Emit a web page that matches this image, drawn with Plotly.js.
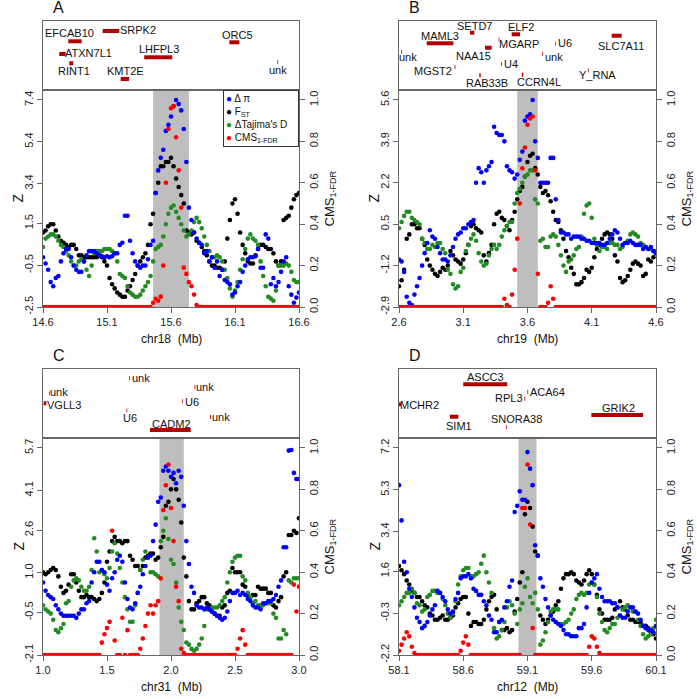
<!DOCTYPE html>
<html><head><meta charset="utf-8">
<script src="https://cdn.plot.ly/plotly-3.0.1.min.js"></script>
<style>html,body{margin:0;padding:0;background:#fff}#chart{width:697px;height:699px}</style>
</head><body><div id="chart"></div>
<script>
// ================= DATA =================
const panelLetters = ["A","B","C","D"];
const chromNames = ["chr18","chr19","chr31","chr12"];

// x ticks (Mb)
const xTicksA = [14.6,15.1,15.6,16.1,16.6];
const xTicksB = [2.6,3.1,3.6,4.1,4.6];
const xTicksC = [1.0,1.5,2.0,2.5,3.0];
const xTicksD = [58.1,58.6,59.1,59.6,60.1];
// Z ticks
const zTicksA = [-2.5,-0.5,1.5,3.4,5.4,7.4];
const zTicksB = [-2.9,-1.2,0.5,2.2,3.9,5.6];
const zTicksC = [-2.1,-0.5,1.0,2.6,4.1,5.7];
const zTicksD = [-2.2,-0.3,1.6,3.4,5.3,7.2];
const cmsTicks = [0,0.2,0.4,0.6,0.8,1.0];
const cmsTickLabels = ["0.0","0.2","0.4","0.6","0.8","1.0"];

// sampling of windows (Mb): "w" windows start at the left edge, "m" windows are offset by half a step
const zWindowStep = 0.04;
const cmsWindowStep = 0.02;

// candidate regions (shaded)
const regionA = [15.46, 15.74];
const regionB = [3.52, 3.68];
const regionC = [1.91, 2.10];
const regionD = [59.03, 59.17];

// ---------- Panel A ----------
const dPiA = [-0.12,-0.72,-1.51,-1.02,0.07,0.27,-0.52,-0.82,-0.32,0.17, 0.17,-0.03,-0.12,-0.12,0.07,0.47,1.86,0.67,-0.32,-0.62, -0.52,0.47,2.95,4.63,5.92,6.61,7.4,6.9,4.43,1.66, 0.77,0.47,0.17,-0.12,-0.32,-0.72,-1.31,-1.91,-1.51,-0.82, -0.22,-0.12,0.27,-0.62,0.77,-1.11,-1.31,-0.32,-1.51,-2.3,-1.81];
const dPiAm = [-0.42,-1.31,-1.11,-0.32,0.27,-0.12,-0.72,-0.82,-0.03,0.17, 0.07,-0.07,-0.07,-0.07,0.07,0.57,1.86,0.07,-0.52,-0.52, -0.22,0.67,4.03,5.02,6.21,7.1,7.2,6.01,2.25,1.06, 0.57,0.07,-0.32,-0.62,-1.02,-1.21,-1.41,-1.81,-1.31,-0.52, -0.12,-0.07,-0.62,0.97,-1.41,-1.51,-0.82,-0.12,-1.91,-2.05];
const fstA = [1.06,1.36,1.46,0.87,0.57,0.37,0.47,-0.03,-0.12,-0.12, -0.12,-0.03,-0.32,-1.11,-1.61,-1.91,-2.01,-1.51,-0.92,-0.32, 0.07,1.46,2.95,4.23,4.43,4.63,3.64,2.85,1.16,0.97, 0.67,0.37,-0.03,-0.52,-0.62,-0.72,0.77,2.45,1.96,0.47, -0.32,-0.42,0.27,0.47,0.27,0.07,-0.52,1.66,1.86,2.65,2.95];
const fstAm = [1.16,1.46,1.16,0.67,0.47,0.47,0.27,-0.03,-0.12,-0.12, -0.12,-0.12,-0.52,-1.41,-1.81,-2.01,-1.71,-1.21,-0.52,-0.12, 0.47,1.96,3.44,4.23,4.43,4.23,3.24,2.45,1.06,1.06, 0.57,0.17,-0.32,-0.52,-0.62,-0.32,1.66,2.65,1.06,0.07, -0.42,-0.03,0.47,0.37,0.27,-0.32,-0.32,1.76,2.25,2.85];
const dTajA = [0.37,0.87,0.97,0.67,0.37,-0.03,-0.52,-0.32,-0.32,-1.02, 0.07,0.17,0.27,0.27,0.07,-0.92,-1.11,-1.81,-2.01,-1.91, -1.51,-1.02,0.27,0.47,1.46,2.25,2.05,1.46,0.87,1.16, 1.76,1.26,0.47,-0.12,-0.03,-0.32,-1.11,-2.01,-1.31,-0.22, 0.77,0.77,0.47,-1.02,-2.01,-2.2,-0.52,-0.52,-0.52,-1.21,-1.31];
const dTajAm = [0.77,0.97,0.87,0.47,0.17,-0.32,-0.52,-0.22,-0.72,-0.52, 0.17,0.17,0.27,0.17,-0.32,-1.02,-1.51,-1.91,-2.01,-1.71, -1.31,-0.32,0.37,0.87,1.96,2.35,1.76,1.16,0.97,1.56, 1.56,0.87,0.17,-0.12,-0.12,-0.72,-1.61,-1.71,-0.72,0.27, 0.97,0.67,-0.32,-1.51,-2.1,-1.71,-0.52,-0.42,-0.82,-1.31];
const cmsA = [0,0,0,0,0,0,0,0,0,0, 0,0,0,0,0,0,0,0,0,0, 0,0,0,0,0,0,0,0,0,0, 0,0,0,0,0,0,0,0,0,0,
  0,0,0,0.02,0.04,0.03,0.05,0.2,0.6,0.86, 0.96,0.97,0.82,0.66,0.48,0.19,0.16,0.12,0.1,0.06,
  0.01,0,0,0,0,0,0,0,0,0, 0,0,0,0,0,0,0,0,0,0, 0,0,0,0,0,0,0,0,0,0, 0,0,0,0,0,0,0,0,0,0, 0];
const geneNamesA = ["EFCAB10","SRPK2","ATXN7L1","RINT1","LHFPL3","KMT2E","ORC5","unk"];
const geneStartA = [14.798,15.066,14.727,14.805,15.391,15.207,16.056,16.431];
const geneEndA   = [14.902,15.196,14.777,14.837,15.610,15.272,16.134,16.437];

// ---------- Panel B ----------
const dPiB = [-0.95,-1.46,-2.73,-2.39,-1.71,-0.69,0.25,-0.1,-0.69,-0.95, -0.78,-0.1,0.16,0.33,0.59,2.2,2.63,2.71,3.05,4.24, 4.16,2.88,2.63,2.54,3.48,4.92,5.6,3.22,2.2,2.2, 3.22,0.67,0.16,0.08,-0.01,-0.01,-0.1,-0.18,-0.27,-0.27, -0.35,-0.1,0.25,-0.1,-0.27,-0.18,-0.35,-0.35,-0.44,-0.44,-0.69];
const dPiBm = [-1.03,-2.48,-2.82,-2.05,-1.2,-0.27,-0.01,-0.44,-0.95,-1.03, -0.44,0.08,0.33,0.5,0.67,2.8,2.2,2.88,4.5,4.16, 3.9,2.71,2.37,3.14,4.75,5.01,3.9,2.2,2.2,3.22, 1.52,0.16,0.08,-0.1,-0.01,-0.1,-0.18,-0.27,-0.27,-0.35, -0.27,0.08,0.16,-0.35,-0.27,-0.27,-0.35,-0.52,-0.52,-0.6];
const fstB = [-2.05,-1.37,0.08,0.5,0.33,-0.35,-1.2,-1.54,-1.46,-1.37, -0.6,-0.95,-1.12,-0.69,0.42,0.33,0.16,-1.03,-0.35,0.93, 0.76,0.42,0.67,1.52,2.03,3.05,3.39,2.54,1.78,1.69, 1.01,0.59,-0.1,-0.86,-1.54,-1.97,-1.71,-1.46,-0.86,-0.35, 0.08,0.08,-0.78,-1.71,-1.8,-1.37,-1.03,-1.2,-1.54,-1.03,-0.69];
const fstBm = [-1.8,-0.1,0.5,0.33,-0.1,-0.95,-1.37,-1.63,-1.29,-1.2, -0.78,-1.03,-0.95,-0.35,0.5,0.25,-0.78,-0.69,0.5,1.01, 0.67,0.25,1.01,1.86,2.46,3.31,2.8,2.03,1.86,1.44, 0.67,0.25,-0.6,-1.29,-1.97,-1.88,-1.37,-1.29,-0.52,-0.1, 0.16,-0.1,-1.03,-1.88,-1.63,-1.12,-1.12,-1.63,-0.95,-0.86];
const dTajB = [0.33,0.84,1.01,0.67,0.5,-0.27,-0.52,-0.44,-0.27,-0.69, -1.54,-2.14,-1.46,-0.6,-0.1,-0.18,-1.03,-1.12,-0.52,-0.52, -0.01,0.42,0.59,1.78,2.2,2.54,2.71,1.35,-0.1,-0.44, 0.08,-0.35,-1.2,-1.03,-0.78,-0.44,0.93,1.35,-0.1,-0.6, -0.44,-0.27,-0.35,-0.52,-0.27,0.08,0.08,-0.27,-0.44,-0.52,-0.6];
const dTajBm = [0.59,1.01,0.76,0.59,-0.1,-0.52,-0.35,-0.27,-0.52,-1.37, -1.97,-2.05,-1.29,-0.35,0.08,-0.69,-1.2,-0.78,-0.35,-0.35, 0.25,0.59,1.35,1.95,2.46,2.71,1.52,-0.18,-0.44,-0.01, -0.01,-0.78,-1.46,-0.95,-0.52,-0.01,1.27,0.76,-0.35,-0.44, -0.52,-0.27,-0.35,-0.44,-0.18,0.16,-0.01,-0.35,-0.52,-0.6];
const cmsB = [0,0,0,0,0,0,0,0,0,0, 0,0,0,0,0,0,0,0,0,0, 0,0,0,0,0,0,0,0,0,0, 0,0,0,0,0,0,0,0,0,0,
  0,0.04,0.01,0,0.06,0.18,0.33,0.5,0.67,0.77, 0.88,0.91,0.92,0.66,0.16,0,0,0,0.02,0.1,
  0.04,0,0,0,0,0,0,0,0,0, 0,0,0,0,0,0,0,0,0,0, 0,0,0,0,0,0,0,0,0,0, 0,0,0,0,0,0,0,0,0,0, 0];
const geneNamesB = ["MAML3","SETD7","ELF2","MGARP","NAA15","U6","SLC7A11","unk","unk","MGST2","U4","RAB33B","CCRN4L","Y_RNA"];
const geneStartB = [2.816,3.153,3.477,3.375,3.269,3.816,4.255,2.618,3.715,3.033,3.396,3.225,3.555,4.070];
const geneEndB   = [3.023,3.186,3.542,3.381,3.321,3.822,4.333,2.624,3.721,3.039,3.402,3.236,3.567,4.076];

// ---------- Panel C ----------
const dPiC = [0.63,0.16,0.01,-0.38,-0.62,-0.62,-0.62,-0.54,-0.38,-0.07, 1.02,1.41,1.02,0.32,1.02,1.64,0.63,-0.31,-0.15,0.47, 1.25,1.64,2.81,3.83,5.0,4.61,4.37,4.61,2.19,0.47, -0.23,-0.31,-0.31,-0.46,-0.62,-0.77,-0.46,0.24,0.32,0.24, 0.01,-0.23,-0.31,-0.15,-0.07,0.01,0.47,1.96,5.6,4.76,4.53];
const dPiCm = [0.32,0.08,-0.23,-0.54,-0.62,-0.62,-0.7,-0.38,-0.15,0.63, 1.41,1.1,0.55,0.79,1.49,1.41,0.01,-0.38,0.24,0.94, 1.57,2.19,3.67,4.84,4.84,4.76,4.84,3.52,1.33,0.24, -0.31,-0.38,-0.38,-0.54,-0.7,-0.7,-0.07,0.24,0.16,0.16, -0.07,-0.31,-0.38,-0.15,-0.07,0.16,0.71,1.96,5.62,4.53];
const fstC = [1.02,1.02,1.18,0.86,0.24,0.55,0.94,0.32,0.08,0.08, 0.01,0.01,0.63,1.8,2.35,2.19,2.19,1.64,1.25,1.1, 1.57,1.72,1.49,1.96,3.52,4.14,4.14,2.89,0.86,-0.38, -0.15,0.08,-0.15,-0.46,-0.62,-0.31,0.24,1.18,1.02,0.55, 0.16,0.16,0.47,0.4,0.24,-0.23,-0.07,0.86,2.42,2.58,3.05];
const fstCm = [0.94,1.1,1.1,0.47,0.32,0.94,0.63,0.08,0.16,0.08, -0.07,0.24,1.41,2.19,2.19,2.11,2.19,1.49,1.25,1.25, 1.64,1.72,1.57,2.35,3.67,4.53,3.75,1.57,-0.07,-0.38, -0.07,0.08,-0.23,-0.54,-0.62,-0.23,0.32,1.02,1.02,0.47, 0.08,0.16,0.4,0.4,0.24,-0.31,0.08,1.02,2.42,2.5];
const dTajC = [-0.23,-0.46,-0.77,-1.24,-0.93,-0.07,0.71,0.71,0.32,0.47, 2.3,1.02,0.94,1.18,2.11,1.18,0.08,-0.85,-0.23,1.1, 1.8,1.02,0.94,2.19,3.05,1.49,0.63,-0.85,-1.63,-1.87, -1.87,-1.48,-0.38,-0.31,-0.31,-0.07,0.63,1.41,1.64,0.86, 0.24,-0.15,-0.23,-0.23,-0.15,-0.54,-1.48,-1.16,0.71,0.79,0.79];
const dTajCm = [-0.38,-0.54,-1.16,-1.09,-0.15,0.47,0.79,0.47,0.32,1.1, 1.8,1.1,0.79,1.8,1.72,0.63,-0.38,-0.85,0.24,1.49, 1.57,1.02,0.86,2.58,2.27,1.33,-0.31,-1.16,-1.71,-1.94, -1.71,-1.01,-0.38,-0.31,-0.23,0.08,1.02,1.57,1.64,0.71, 0.08,-0.07,-0.23,-0.15,-0.15,-0.7,-1.48,-1.32,0.63,0.79];
const cmsC = [0,0,0,0,0,0,0,0,0,0, 0,0,0,0,0,0,0,0,0,0,
  0,0,0,0.06,0.1,0.13,0.16,0.6,0.07,0, 0,0.18,0,0.12,0,0,0,0,0.03,0.08,
  0.14,0.2,0.24,0.2,0.24,0.26,0.37,0.7,0.82,0.92, 0.71,0.55,0.33,0.26,0.03,0.01,0,0,0,0,
  0,0,0,0,0,0,0,0,0,0, 0,0,0,0,0,0,0.03,0.08,0.12,0.05, 0,0,0,0,0,0,0,0,0,0,
  0,0,0,0,0,0,0,0,0.34,0.21, 0.33];
const geneNamesC = ["unk","unk","VGLL3","unk","U6","U6","unk","CADM2"];
const geneStartC = [1.672,1.046,1.005,2.184,2.088,1.652,2.306,1.836];
const geneEndC   = [1.678,1.052,1.026,2.190,2.094,1.658,2.312,2.154];

// ---------- Panel D ----------
const dPiD = [5.51,2.03,0.81,-0.04,-0.7,-0.88,-0.41,0.06,0.62,0.24, -0.32,0.34,1.28,1.37,1.28,0.71,0.53,0.06,-0.6,-1.17, -0.6,0.24,1.18,4.57,4.85,7.01,5.51,2.31,0.9,-0.04, -0.6,-0.79,-1.07,-1.26,-1.35,-0.98,-0.79,0.62,1.28,0.81, 0.24,0.24,0.15,-0.41,-0.51,-0.04,-0.23,-0.6,-0.98,-1.07,-0.88];
const dPiDm = [3.91,1.56,0.43,-0.51,-0.98,-0.7,-0.13,0.71,0.43,-0.13, -0.23,0.62,1.37,1.47,0.81,0.53,0.24,-0.41,-1.17,-0.7, -0.04,0.9,4.29,5.23,4.85,6.26,2.78,1.28,0.34,-0.41, -0.7,-0.88,-1.26,-1.35,-1.35,-0.98,-0.04,1.09,1.47,0.43, 0.24,0.15,-0.04,-0.51,-0.23,-0.04,-0.32,-0.88,-1.07,-1.17];
const fstD = [1.84,1.47,1.0,0.62,0.43,0.06,-0.32,-0.6,-0.51,-0.6, -0.51,-0.04,0.34,0.43,-0.88,-0.7,-0.79,-0.13,0.43,-0.13, -1.07,-0.98,-1.07,0.34,1.56,4.76,3.63,2.31,-0.6,-0.6, -0.23,0.24,1.28,1.47,1.47,1.09,1.18,1.65,1.0,-0.13, -0.6,-0.6,-0.13,0.24,-0.13,-0.6,-0.7,-0.7,-0.88,-1.17,-1.45];
const fstDm = [1.65,1.18,0.71,0.43,0.24,-0.04,-0.41,-0.6,-0.41,-0.6, -0.41,0.15,0.43,-0.32,-0.7,-0.79,-0.6,0.24,0.53,-0.7, -1.07,-1.17,-0.23,1.09,4.19,4.47,2.5,-0.41,-0.79,-0.41, 0.06,0.81,1.47,1.56,1.18,1.0,1.47,1.47,0.53,-0.32, -0.6,-0.51,-0.04,-0.04,-0.41,-0.6,-0.7,-0.88,-0.98,-1.26];
const dTajD = [0.06,0.43,0.62,0.62,0.06,-0.13,0.53,0.71,0.62,0.06, -0.51,0.24,1.37,1.75,1.37,1.47,1.94,1.56,0.62,-1.45, -1.07,-0.04,0.06,-0.79,0.15,1.28,0.15,-0.13,-1.54,-0.7, -0.13,-0.13,-0.79,-0.6,-0.13,0.53,0.53,1.0,1.0,-0.32, -1.07,-0.98,-0.79,-0.41,-0.04,-0.04,-0.23,-0.88,-1.45,-1.26,-0.6];
const dTajDm = [0.24,0.62,0.81,0.15,-0.23,0.43,0.71,0.62,0.34,-0.32, -0.32,1.0,1.65,1.75,1.37,1.56,2.31,1.09,-0.98,-1.35, -0.7,0.24,-0.32,-0.13,0.9,0.43,0.62,-1.73,-1.17,-0.23, -0.13,-0.79,-0.7,-0.32,0.34,0.62,0.62,1.09,0.43,-0.7, -1.17,-0.79,-0.51,-0.13,0.06,-0.23,-0.6,-1.26,-1.35,-0.98];
const cmsD = [0.02,0.05,0.08,0.11,0.09,0.04,0.01,0,0,0, 0,0,0,0,0,0,0,0,0,0,
  0,0,0,0,0.02,0.06,0.09,0.05,0,0, 0,0,0,0,0,0,0,0,0,0,
  0,0,0,0,0,0,0,0,0.71,0.71, 0.92,0.63,0.13,0,0,0,0,0,0,0,
  0,0,0,0,0,0,0,0,0,0, 0,0,0,0,0.04,0.09,0.08,0.04,0.01,0,
  0,0,0,0,0,0,0,0,0,0, 0,0,0,0,0,0,0,0,0,0, 0];
const geneNamesD = ["ASCC3","ACA64","RPL3","MCHR2","SIM1","SNORA38","GRIK2"];
const geneStartD = [58.600,59.099,59.076,58.100,58.496,58.934,59.597];
const geneEndD   = [58.942,59.105,59.082,58.116,58.562,58.940,59.999];

// ================= LAYOUT HELPERS (positions/styles) =================
// gene track rows (px from top of track box) and label offsets (px) from bar centre
const geneLayoutA = {row:[20.3,10,33,42.3,36.3,58,21.3,41], dx:[-5.3,26.8,25.8,2.7,1.2,0.2,3,0], dy:[-8.3,-1,-0.7,7.4,-8,-8,-7.6,7.7]};
const geneLayoutB = {row:[22.3,11.7,13.3,18.5,26.7,22.8,14.7,31,32.7,46,43,54.3,53.7,49.3],
  dx:[0.3,2,5.2,19.8,-15,9.6,4.1,6.6,11.5,-21.7,9.5,7.2,17,9.2], dy:[-7.3,-6.7,-7.6,4.8,8,-1.1,10.3,4.7,3.6,4,0,7.4,7.3,4.7]};
const geneLayoutC = {row:[9,24.5,34.3,18,32.2,41.5,48,61], dx:[11.2,9.7,19.3,10.5,9,3.3,10.6,0.9], dy:[0,-1.2,1.5,0,0.5,7.8,0.3,-6]};
const geneLayoutD = {row:[15.3,22.7,29.5,35.3,47.7,58.2,46], dx:[0.6,19.7,-16,19.9,4.8,10,1.5], dy:[-7.6,0.6,-0.2,0.7,9,-8.2,-7.3]};

const W = 697, H = 699;
const colX = [[43,299],[399,656]];
const rowY = [{box:[21,90], plot:[90,307]}, {box:[369,438], plot:[438,655]}];
const FONT = "Liberation Sans, Arial, Helvetica, sans-serif";
const AXC = "#666";
const COL = {pi:"#0000ff", fst:"#000000", taj:"#228b22", cms:"#ff0000"};

const panels = [
  {xt:xTicksA, zt:zTicksA, pi:dPiA, pim:dPiAm, fst:fstA, fstm:fstAm, taj:dTajA, tajm:dTajAm, cms:cmsA, region:regionA, gn:geneNamesA, gs:geneStartA, ge:geneEndA, gl:geneLayoutA},
  {xt:xTicksB, zt:zTicksB, pi:dPiB, pim:dPiBm, fst:fstB, fstm:fstBm, taj:dTajB, tajm:dTajBm, cms:cmsB, region:regionB, gn:geneNamesB, gs:geneStartB, ge:geneEndB, gl:geneLayoutB},
  {xt:xTicksC, zt:zTicksC, pi:dPiC, pim:dPiCm, fst:fstC, fstm:fstCm, taj:dTajC, tajm:dTajCm, cms:cmsC, region:regionC, gn:geneNamesC, gs:geneStartC, ge:geneEndC, gl:geneLayoutC},
  {xt:xTicksD, zt:zTicksD, pi:dPiD, pim:dPiDm, fst:fstD, fstm:fstDm, taj:dTajD, tajm:dTajDm, cms:cmsD, region:regionD, gn:geneNamesD, gs:geneStartD, ge:geneEndD, gl:geneLayoutD}
];

const ak = (t,n) => (n===1 ? t+"axis" : t+"axis"+n);
const px2x = x => x/W;
const px2y = y => 1 - y/H;
const TOPFRAC = 1.048;

const traces = [];
const layout = {
  width: W, height: H, margin:{l:0,r:0,t:0,b:0},
  paper_bgcolor:"#fff", plot_bgcolor:"rgba(0,0,0,0)", showlegend:false,
  font:{family:FONT, size:11, color:"#111"},
  shapes:[], annotations:[]
};

panels.forEach((p, k) => {
  const n = k+1;            // scatter x / left y
  const nr = k+5;           // right y (CMS)
  const gx = k+5, gy = k+9; // gene track axes
  const col = colX[k%2], row = rowY[Math.floor(k/2)];
  const x0 = p.xt[0], x1 = p.xt[p.xt.length-1];
  const zmin = p.zt[0], zmax = p.zt[p.zt.length-1];
  const xw = p.pi.map((_,i)=> +(x0 + i*zWindowStep).toFixed(3));
  const xm = p.pim.map((_,i)=> +(x0 + zWindowStep/2 + i*zWindowStep).toFixed(3));
  const xz = xw.concat(xm);
  const xc = p.cms.map((_,i)=> +(x0 + i*cmsWindowStep).toFixed(3));
  const mk = c => ({size:4.6, color:c, line:{width:0}});
  const xa = "x"+(n===1?"":n), ya = "y"+(n===1?"":n), yr = "y"+nr;

  traces.push({x:xz, y:p.fst.concat(p.fstm), xaxis:xa, yaxis:ya, type:"scatter", mode:"markers", marker:mk(COL.fst), name:"FST", hoverinfo:"skip"});
  traces.push({x:xz, y:p.taj.concat(p.tajm), xaxis:xa, yaxis:ya, type:"scatter", mode:"markers", marker:mk(COL.taj), name:"dTaj", hoverinfo:"skip"});
  traces.push({x:xz, y:p.pi.concat(p.pim),  xaxis:xa, yaxis:ya, type:"scatter", mode:"markers", marker:mk(COL.pi), name:"dPi", hoverinfo:"skip"});
  traces.push({x:xc, y:p.cms, xaxis:xa, yaxis:yr, type:"scatter", mode:"markers", marker:mk(COL.cms), name:"CMS", hoverinfo:"skip"});

  const dom = [px2x(col[0]), px2x(col[1])];
  layout[ak("x",n)] = {domain:dom, anchor:ya, range:[x0,x1], tickvals:p.xt, ticktext:p.xt.map(v=>v.toFixed(1)),
    ticks:"outside", ticklen:5, tickcolor:AXC, showline:true, linecolor:AXC, mirror:true, showgrid:false, zeroline:false,
    tickfont:{size:11,color:"#222"}};
  layout[ak("y",n)] = {domain:[px2y(row.plot[1]), px2y(row.plot[0])], anchor:xa,
    range:[zmin, zmin + TOPFRAC*(zmax-zmin)], tickvals:p.zt, ticktext:p.zt.map(v=>v.toFixed(1)),
    ticks:"outside", ticklen:5, tickcolor:AXC, tickangle:-90, showline:true, linecolor:AXC, showgrid:false, zeroline:false,
    tickfont:{size:11,color:"#222"}};
  layout[ak("y",nr)] = {overlaying:ya, side:"right", anchor:xa, range:[0,TOPFRAC], tickvals:cmsTicks, ticktext:cmsTickLabels,
    ticks:"outside", ticklen:5, tickcolor:AXC, tickangle:-90, showline:true, linecolor:AXC, showgrid:false, zeroline:false,
    tickfont:{size:11,color:"#222"}};
  // gene track
  layout[ak("x",gx)] = {domain:dom, anchor:"y"+gy, range:[x0,x1], showticklabels:false, ticks:"", showline:true, linecolor:AXC, mirror:true, showgrid:false, zeroline:false};
  layout[ak("y",gy)] = {domain:[px2y(row.box[1]), px2y(row.box[0])], anchor:"x"+gx, range:[row.box[1]-row.box[0],0], showticklabels:false, ticks:"", showline:true, linecolor:AXC, mirror:true, showgrid:false, zeroline:false};

  // shaded candidate region
  layout.shapes.push({type:"rect", xref:xa, yref:ya+" domain", x0:p.region[0], x1:p.region[1], y0:0, y1:1, fillcolor:"#bebebe", line:{width:0}, layer:"below"});
  // genes
  p.gn.forEach((g,i) => {
    const r = p.gl.row[i];
    layout.shapes.push({type:"rect", xref:"x"+gx, yref:"y"+gy, x0:p.gs[i], x1:p.ge[i], y0:r-2, y1:r+2, fillcolor:"#b00000", line:{width:0}});
    layout.annotations.push({xref:"x"+gx, yref:"y"+gy, x:(p.gs[i]+p.ge[i])/2, y:r, xshift:p.gl.dx[i], yshift:-p.gl.dy[i],
      text:g, showarrow:false, xanchor:"center", yanchor:"middle", font:{size:11,color:"#111"}});
  });
  // titles
  const cx = (col[0]+col[1])/2, cy = (row.plot[0]+row.plot[1])/2;
  layout.annotations.push({xref:"paper", yref:"paper", x:px2x(col[0]+8), y:px2y(row.box[0]-14), text:panelLetters[k], showarrow:false, xanchor:"left", yanchor:"middle", font:{size:16,color:"#111"}});
  layout.annotations.push({xref:"paper", yref:"paper", x:px2x(cx), y:px2y(row.plot[1]+32), text:chromNames[k]+"  (Mb)", showarrow:false, xanchor:"center", yanchor:"middle", font:{size:12,color:"#111"}});
  layout.annotations.push({xref:"paper", yref:"paper", x:px2x(col[0]-25), y:px2y(cy), text:"Z", textangle:-90, showarrow:false, xanchor:"center", yanchor:"middle", font:{size:14,color:"#111"}});
  layout.annotations.push({xref:"paper", yref:"paper", x:px2x(col[1]+31), y:px2y(cy), text:"CMS<sub>1-FDR</sub>", textangle:-90, showarrow:false, xanchor:"center", yanchor:"middle", font:{size:13,color:"#111"}});
});

// legend (panel A)
layout.annotations.push({xref:"paper", yref:"paper", x:px2x(223), y:px2y(90), xanchor:"left", yanchor:"top",
  text:'<span style="color:'+COL.pi+'">●</span> Δ π<br><span style="color:'+COL.fst+'">●</span> F<sub>ST</sub><br><span style="color:'+COL.taj+'">●</span> ΔTajima\'s D<br><span style="color:'+COL.cms+'">●</span> CMS<sub>1-FDR</sub>',
  align:"left", showarrow:false, bgcolor:"#fff", bordercolor:"#333", borderwidth:1, borderpad:2, width:70, font:{size:10,color:"#111"}});

Plotly.newPlot("chart", traces, layout, {staticPlot:true, displayModeBar:false});
</script>
</body></html>
